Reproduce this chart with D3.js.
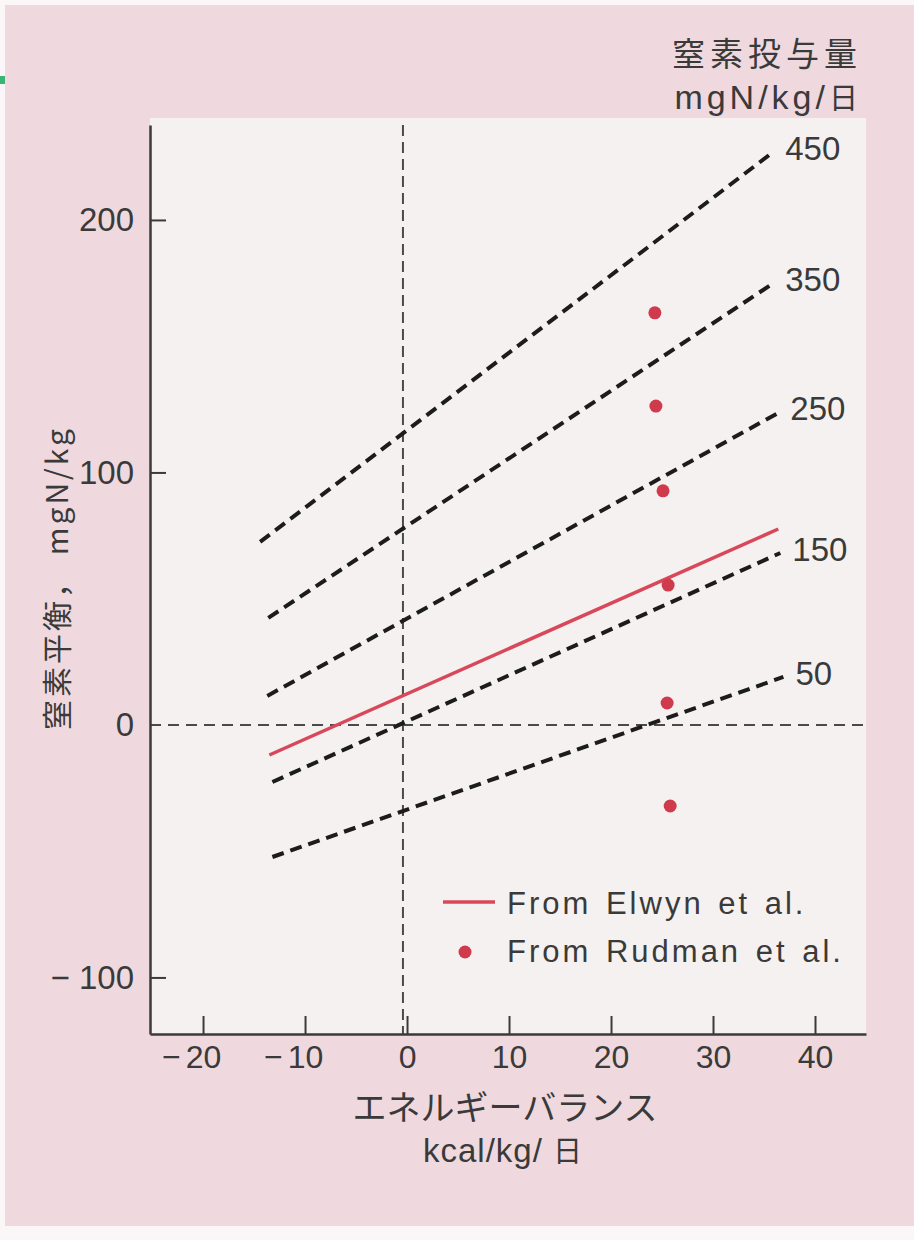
<!DOCTYPE html>
<html><head><meta charset="utf-8">
<script src="https://cdn.jsdelivr.net/npm/d3@7"></script>
<style>body{margin:0;background:#fff}svg{display:block}</style>
</head><body><svg id="c" width="914" height="1240"></svg>
<script>
// ---- data ----
const xTicks = [-20, -10, 0, 10, 20, 30, 40];
const yTicks = [-100, 0, 100, 200];
const doseLabels = ["450", "350", "250", "150", "50"];
const doseStartX = [-14.4, -13.6, -13.7, -13.2, -13.2];
const doseStartY = [72.5, 42.4, 11.5, -22.6, -52.3];
const doseEndX = [35.9, 35.9, 36.4, 36.6, 36.9];
const doseEndY = [226.9, 174.9, 123.6, 68.1, 19.0];
const elwynX = [-13.5, 36.4];
const elwynY = [-11.9, 77.6];
const rudmanX = [24.3, 24.4, 25.1, 25.6, 25.5, 25.8];
const rudmanY = [163.2, 126.3, 92.7, 55.4, 8.7, -32.1];
const legendLabels = ["From Elwyn et al.", "From Rudman et al."];
const yTitle = "窒素平衡，  mgN/kg";
const xTitle1 = "エネルギーバランス";
const xTitle2 = ["kcal/kg/ ", "日"];
const doseTitle1 = "窒素投与量";
const doseTitle2 = ["mgN/kg/", "日"];

// ---- drawing ----
const svg = d3.select("#c");
const W = 914, H = 1240;
const FONT = "'Liberation Sans', Arial, sans-serif";
const CJK = "'Noto Sans CJK JP', 'Noto Sans', sans-serif";
const ink = "#3a3a3a";
const red = "#d9485a";

svg.append("rect").attr("width", W).attr("height", H).attr("fill", "#fbf6f7");
svg.append("rect").attr("x", 5).attr("y", 5).attr("width", W - 5).attr("height", 1221).attr("fill", "#efd9de");
svg.append("rect").attr("x", 0).attr("y", 76).attr("width", 5).attr("height", 8).attr("fill", "#3cb371");

const x = d3.scaleLinear().domain([-25.2, 45]).range([150, 866]);
const y = d3.scaleLinear().domain([-122.4, 237.6]).range([1034, 125]);

// plot panel
svg.append("rect").attr("x", 150).attr("y", 118).attr("width", 716).attr("height", 916).attr("fill", "#f5f1f1");

// reference dashed lines at 0
svg.append("line").attr("x1", x(-25.2)).attr("x2", x(45)).attr("y1", y(0)).attr("y2", y(0))
  .attr("stroke", "#4a4a4a").attr("stroke-width", 2).attr("stroke-dasharray", "11 7");
svg.append("line").attr("x1", x(-0.4)).attr("x2", x(-0.4)).attr("y1", y(237.6)).attr("y2", y(-122.4))
  .attr("stroke", "#4a4a4a").attr("stroke-width", 2).attr("stroke-dasharray", "11 6");

// axes
const xAxis = d3.axisBottom(x).tickValues(xTicks).tickSize(-18).tickSizeOuter(0).tickPadding(11)
  .tickFormat(d => Math.abs(d));
const gx = svg.append("g").attr("transform", `translate(0,${y(-122.4)})`).call(xAxis);
gx.select(".domain").attr("stroke", ink).attr("stroke-width", 2.5);
gx.selectAll(".tick line").attr("stroke", ink).attr("stroke-width", 2);
gx.selectAll(".tick text").attr("font-family", FONT).attr("font-size", 32).attr("fill", ink);
gx.selectAll(".tick").each(function(d) {
  if (d < 0) {
    const t = d3.select(this).select("text");
    const w = t.node().getComputedTextLength();
    d3.select(this).append("text").text("−").attr("x", -w / 2 - 5).attr("y", 11).attr("dy", "0.71em")
      .attr("text-anchor", "end").attr("font-family", FONT).attr("font-size", 32).attr("fill", ink);
  }
});

const yAxis = d3.axisLeft(y).tickValues(yTicks).tickSize(-16).tickSizeOuter(0).tickPadding(16)
  .tickFormat(d => d < 0 ? "− " + Math.abs(d) : d);
const gy = svg.append("g").attr("transform", `translate(${x(-25.2)},0)`).call(yAxis);
gy.select(".domain").attr("stroke", ink).attr("stroke-width", 2.5);
gy.selectAll(".tick line").attr("stroke", ink).attr("stroke-width", 2).attr("opacity", d => d === 0 ? 0 : 1);
gy.selectAll(".tick text").attr("font-family", FONT).attr("font-size", 33).attr("fill", ink);

// dose lines
const doseData = doseLabels.map((l, i) => ({ label: l, x1: doseStartX[i], y1: doseStartY[i], x2: doseEndX[i], y2: doseEndY[i] }));
svg.append("g").selectAll("line").data(doseData).join("line")
  .attr("x1", d => x(d.x1)).attr("y1", d => y(d.y1)).attr("x2", d => x(d.x2)).attr("y2", d => y(d.y2))
  .attr("stroke", "#1c1c1c").attr("stroke-width", 4).attr("stroke-dasharray", "12 7");
svg.append("g").selectAll("text").data(doseData).join("text")
  .attr("x", d => x(d.x2) + 12).attr("y", d => y(d.y2) - 4).attr("dy", "0.35em")
  .attr("font-family", FONT).attr("font-size", 33).attr("fill", ink).text(d => d.label);

// Elwyn line
svg.append("path").datum(elwynX.map((v, i) => [v, elwynY[i]]))
  .attr("d", d3.line().x(d => x(d[0])).y(d => y(d[1])))
  .attr("stroke", red).attr("stroke-width", 3.5).attr("fill", "none");

// Rudman points
svg.append("g").selectAll("circle").data(rudmanX.map((v, i) => [v, rudmanY[i]])).join("circle")
  .attr("cx", d => x(d[0])).attr("cy", d => y(d[1])).attr("r", 6.5).attr("fill", "#cf3a4c");

// legend
const lg = svg.append("g");
lg.append("line").attr("x1", 443).attr("x2", 495).attr("y1", 902).attr("y2", 902).attr("stroke", red).attr("stroke-width", 3.5);
lg.append("circle").attr("cx", 465).attr("cy", 952).attr("r", 6.5).attr("fill", "#cf3a4c");
lg.selectAll("text").data(legendLabels).join("text")
  .attr("x", 507).attr("y", (d, i) => 903 + i * 48).attr("dy", "0.35em")
  .attr("font-family", FONT).attr("font-size", 31).attr("letter-spacing", 3).attr("word-spacing", 3)
  .attr("fill", ink).text(d => d);

// y title
svg.append("text").attr("transform", "translate(57,578) rotate(-90)").attr("text-anchor", "middle")
  .attr("dy", "0.35em").attr("font-family", CJK).attr("font-size", 30).attr("letter-spacing", 3)
  .attr("fill", ink).text(yTitle);

// x title
svg.append("text").attr("x", 505).attr("y", 1108).attr("dy", "0.35em").attr("text-anchor", "middle")
  .attr("font-family", CJK).attr("font-size", 34).attr("fill", ink).text(xTitle1);
const xt2 = svg.append("text").attr("x", 503).attr("y", 1162).attr("text-anchor", "middle")
  .attr("font-family", FONT).attr("font-size", 33).attr("letter-spacing", 1).attr("fill", ink);
xt2.append("tspan").text(xTitle2[0]);
xt2.append("tspan").attr("font-family", CJK).attr("font-size", 29).text(xTitle2[1]);

// dose title
svg.append("text").attr("x", 862).attr("y", 54).attr("dy", "0.35em").attr("text-anchor", "end")
  .attr("font-family", CJK).attr("font-size", 33).attr("letter-spacing", 5).attr("fill", ink).text(doseTitle1);
const dt2 = svg.append("text").attr("x", 862).attr("y", 109).attr("text-anchor", "end")
  .attr("font-family", FONT).attr("font-size", 34).attr("letter-spacing", 4).attr("fill", ink);
dt2.append("tspan").text(doseTitle2[0]);
dt2.append("tspan").attr("font-family", CJK).attr("font-size", 29).text(doseTitle2[1]);
</script></body></html>
